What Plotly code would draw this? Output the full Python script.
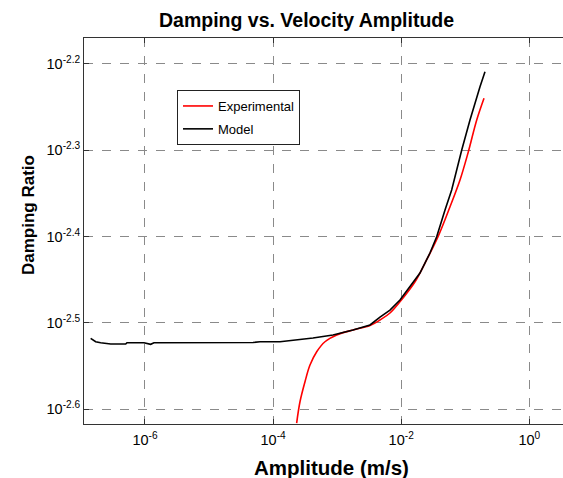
import plotly.graph_objects as go

# Data (log10 values)
model_logx = [-6.848, -6.770, -6.692, -6.535, -6.301, -6.281, -6.016, -5.911, -5.860, -5.391,
              -4.314, -4.205, -3.892, -3.377, -3.065, -2.753, -2.487, -2.331, -2.175, -2.019,
              -1.863, -1.707, -1.551, -1.446, -1.316, -1.212, -1.055, -0.926, -0.770, -0.692]
model_logy = [-2.5178, -2.5218, -2.5229, -2.5245, -2.5245, -2.5229, -2.5229, -2.5248, -2.5229, -2.5229,
              -2.5227, -2.5218, -2.5218, -2.5175, -2.5140, -2.5082, -2.5024, -2.4932, -2.4851, -2.4735,
              -2.4581, -2.4422, -2.4190, -2.4001, -2.3692, -2.3460, -2.2997, -2.2649, -2.2263, -2.2089]

exp_logx = [-3.632, -3.580, -3.502, -3.424, -3.319, -3.190, -3.007, -2.753, -2.487, -2.331,
            -2.175, -1.972, -1.784, -1.628, -1.425, -1.238, -1.082, -0.957, -0.821, -0.707]
exp_logy = [-2.6160, -2.5913, -2.5681, -2.5488, -2.5334, -2.5218, -2.5140, -2.5082, -2.5030, -2.4966,
            -2.4885, -2.4711, -2.4523, -2.4306, -2.4001, -2.3654, -2.3344, -2.3031, -2.2649, -2.2397]

x_tick_exps = [-6, -4, -2, 0]
y_tick_exps = [-2.6, -2.5, -2.4, -2.3, -2.2]

model_x = [10 ** v for v in model_logx]
model_y = [10 ** v for v in model_logy]
exp_x = [10 ** v for v in exp_logx]
exp_y = [10 ** v for v in exp_logy]

FONT = "Liberation Sans, Arial, sans-serif"
SUP = "10<sup>%s</sup>"

fig = go.Figure()
fig.add_trace(go.Scatter(x=exp_x, y=exp_y, mode="lines", name="Experimental",
                         legendgroup="a",
                         line=dict(color="#ff0000", width=1.6, shape="spline")))
fig.add_trace(go.Scatter(x=model_x, y=model_y, mode="lines", name="Model",
                         legendgroup="b",
                         line=dict(color="#000000", width=1.6)))

fig.update_layout(
    width=563, height=478,
    margin=dict(l=84, r=0, t=38, b=54),
    paper_bgcolor="white", plot_bgcolor="white",
    font=dict(family=FONT, color="black", size=13),
    showlegend=True,
    legend=dict(x=(177 - 84) / 479, y=(424 - 90) / 386, xanchor="left", yanchor="top",
                bgcolor="white", bordercolor="#222", borderwidth=1,
                font=dict(size=13, family=FONT, color="black"),
                traceorder="grouped", tracegroupgap=3),
    xaxis=dict(type="log", range=[-6.952, 0.526],
               tickvals=[10 ** e for e in x_tick_exps],
               ticktext=[SUP % ("%d" % e) for e in x_tick_exps],
               ticks="inside", ticklen=5, tickcolor="#333", mirror="ticks",
               showline=True, linecolor="#333", linewidth=1,
               showgrid=True, gridcolor="#8a8a8a", griddash="dash", gridwidth=1,
               zeroline=False, tickfont=dict(size=14.5, color="black"),
               ticklabelstandoff=3),
    yaxis=dict(type="log", range=[-2.6171, -2.1699],
               tickvals=[10 ** e for e in y_tick_exps],
               ticktext=[SUP % ("%.1f" % e) for e in y_tick_exps],
               ticks="inside", ticklen=5, tickcolor="#333",
               showline=True, linecolor="#333", linewidth=1,
               showgrid=True, gridcolor="#8a8a8a", griddash="dash", gridwidth=1,
               zeroline=False, tickfont=dict(size=14.5, color="black")),
    annotations=[
        dict(text="<b>Damping vs. Velocity Amplitude</b>", xref="paper", yref="paper",
             x=(306 - 84) / 479, y=1 + (38 - 20) / 386, xanchor="center", yanchor="middle",
             showarrow=False, font=dict(size=19.5, family=FONT)),
        dict(text="<b>Amplitude (m/s)</b>", xref="paper", yref="paper",
             x=(331 - 84) / 479, y=-(467 - 424) / 386, xanchor="center", yanchor="middle",
             showarrow=False, font=dict(size=20.5, family=FONT)),
        dict(text="<b>Damping Ratio</b>", xref="paper", yref="paper",
             x=-(84 - 28) / 479, y=(424 - 215) / 386, xanchor="center", yanchor="middle",
             textangle=-90, showarrow=False, font=dict(size=17, family=FONT)),
    ],
)

fig.write_html("out.html")
